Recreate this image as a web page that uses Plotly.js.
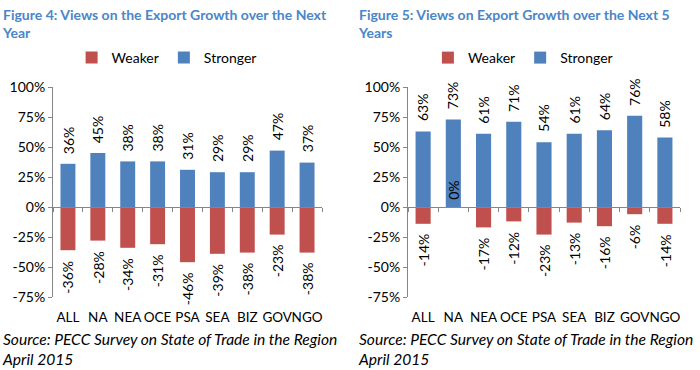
<!DOCTYPE html>
<html><head><meta charset="utf-8">
<script src="https://cdn.plot.ly/plotly-3.0.1.min.js"></script>
<style>body{margin:0;background:#fff}#chart{width:700px;height:370px}</style>
</head><body><div id="chart"></div>
<script>
const categories = ['ALL','NA','NEA','OCE','PSA','SEA','BIZ','GOV','NGO'];
const fig4Weaker   = [-36,-28,-34,-31,-46,-39,-38,-23,-38];
const fig4Stronger = [36,45,38,38,31,29,29,47,37];
const fig5Weaker   = [-14,0,-17,-12,-23,-13,-16,-6,-14];
const fig5Stronger = [63,73,61,71,54,61,64,76,58];
const yTicks = [-75,-50,-25,0,25,50,75,100];
const yTickText = yTicks.map(v => v + '%');

const RED = '#c0504d', BLUE = '#4f81bd', AXIS = '#868686';
const FONT = 'Lato, "Open Sans", sans-serif';
const H = 370, W = 700;
const yDom = [1 - 297/H, 1 - 87/H];
const zeroPos = yDom[0] + (0 - (-75)) / 175 * (yDom[1] - yDom[0]);

function bars(vals, name, color, xa, ya, legend, show) {
  return {type:'bar', x:categories, y:vals, name:name, xaxis:xa, yaxis:ya,
    marker:{color:color}, width:0.5, legend:legend, showlegend:show, hoverinfo:'skip'};
}
const data = [
  bars(fig4Weaker,'Weaker',RED,'x','y','legend',true),
  bars(fig4Stronger,'Stronger',BLUE,'x','y','legend',true),
  bars(fig5Weaker,'Weaker',RED,'x2','y2','legend2',true),
  bars(fig5Stronger,'Stronger',BLUE,'x2','y2','legend2',true)
];

function labelAnns(vals, xa, ya) {
  return vals.map((v,i)=>({
    x:categories[i], y:v, xref:xa, yref:ya, text:v+'%', showarrow:false,
    textangle:-90, yanchor: v<0 ? 'top':'bottom', xanchor:'center',
    yshift: v<0 ? -8 : (v===0 ? 5 : 8),
    font:{family:FONT,size:14,color:'#000'}
  }));
}

const annotations = [
  {xref:'paper',yref:'paper',x:0,y:1-4/H,xanchor:'left',yanchor:'top',align:'left',showarrow:false,
   text:'<b>Figure 4: Views on the Export Growth over the Next<br>Year</b>',font:{family:FONT,size:14,color:'#4a86c8'}},
  {xref:'paper',yref:'paper',x:356/W,y:1-4/H,xanchor:'left',yanchor:'top',align:'left',showarrow:false,
   text:'<b>Figure 5: Views on Export Growth over the Next 5<br>Years</b>',font:{family:FONT,size:14,color:'#4a86c8'}},
  {xref:'paper',yref:'paper',x:0,y:1-328/H,xanchor:'left',yanchor:'top',align:'left',showarrow:false,
   text:'<i>Source: PECC Survey on State of Trade in the Region<br>April 2015</i>',font:{family:FONT,size:15.6,color:'#000'}},
  {xref:'paper',yref:'paper',x:356/W,y:1-328/H,xanchor:'left',yanchor:'top',align:'left',showarrow:false,
   text:'<i>Source: PECC Survey on State of Trade in the Region<br>April 2015</i>',font:{family:FONT,size:15.6,color:'#000'}}
].concat(labelAnns(fig4Stronger,'x','y'), labelAnns(fig4Weaker,'x','y'),
         labelAnns(fig5Stronger,'x2','y2'), labelAnns(fig5Weaker,'x2','y2'));

function yax(anchor) {
  return {domain:yDom, anchor:anchor, range:[-75,100], tickmode:'array', tickvals:yTicks, ticktext:yTickText,
    showgrid:false, zeroline:false, showline:true, linecolor:AXIS, linewidth:1,
    ticks:'outside', ticklen:4, tickcolor:AXIS,
    tickfont:{family:FONT,size:14,color:'#000'}, fixedrange:true};
}
function xax(dom, anchor) {
  return {domain:dom, anchor:anchor, type:'category', showgrid:false, showline:false, zeroline:false,
    ticks:'', tickangle:0, ticklabelstandoff:10, tickfont:{family:FONT,size:13.5,color:'#000'}, fixedrange:true};
}
function xzero(dom, over) {
  return {domain:dom, overlaying:over, matches:over, anchor:'free', position:zeroPos, type:'category',
    showline:true, linecolor:AXIS, linewidth:1, ticks:'outside', tickson:'boundaries', ticklen:4,
    tickcolor:AXIS, showticklabels:false, showgrid:false, zeroline:false};
}
const d1 = [53/W, 322/W], d2 = [408/W, 680/W];
function leg(x) {
  return {orientation:'h', x:x, xanchor:'center', y:1-58/H, yanchor:'middle',
    itemwidth:30, tracegroupgap:0,
    font:{family:FONT,size:14,color:'#000'}, bgcolor:'rgba(0,0,0,0)', traceorder:'normal'};
}
const layout = {
  width:W, height:H, margin:{l:0,r:0,t:0,b:0}, paper_bgcolor:'#fff', plot_bgcolor:'rgba(0,0,0,0)',
  barmode:'overlay', showlegend:true,
  xaxis:xax(d1,'y'), yaxis:yax('x'),
  xaxis2:xax(d2,'y2'), yaxis2:yax('x2'),
  xaxis3:xzero(d1,'x'), xaxis4:xzero(d2,'x2'),
  legend:leg(0.238), legend2:leg(0.747),
  annotations:annotations
};
data.push({type:'bar',x:categories,y:categories.map(()=>null),xaxis:'x3',yaxis:'y',showlegend:false,hoverinfo:'skip'});
data.push({type:'bar',x:categories,y:categories.map(()=>null),xaxis:'x4',yaxis:'y2',showlegend:false,hoverinfo:'skip'});
Plotly.newPlot('chart', data, layout, {displayModeBar:false, staticPlot:true});
</script></body></html>
